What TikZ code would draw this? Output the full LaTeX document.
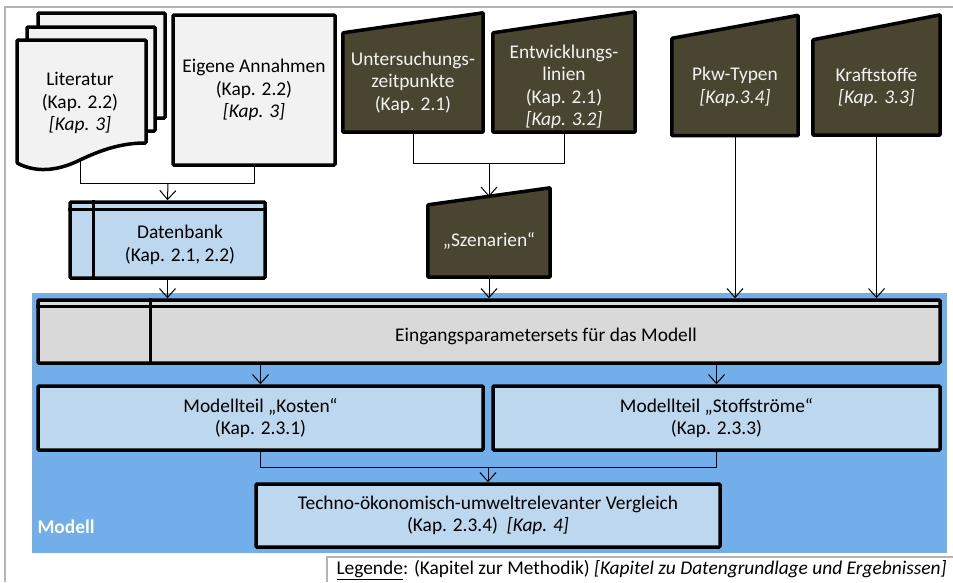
\documentclass[tikz,border=0pt]{standalone}
\usepackage{fontspec}
\setmainfont{Carlito}
\usetikzlibrary{arrows.meta,backgrounds}

\definecolor{docgray}{HTML}{F2F2F2}
\definecolor{dbblue}{HTML}{BDD7EE}
\definecolor{inbrown}{HTML}{4A4531}
\definecolor{modelblue}{HTML}{71AEEA}
\definecolor{setgray}{HTML}{D9D9D9}
\definecolor{framegray}{HTML}{B4B4B4}

\tikzset{
  box/.style={draw, line width=3.5pt, rounded corners=1pt, inner sep=0pt},
  inbox/.style={inner sep=0pt, text=docgray},
  inshape/.style={draw, line width=3.5pt, rounded corners=1pt, fill=inbrown},
  conn/.style={line width=1pt},
  arr/.style={conn, -{Straight Barb[length=9pt,width=16pt]}}
}

\newcommand{\inputshape}[2]{%
  \draw[inshape] (#1.south west) -- (#1.north west) -- ([yshift=#2]#1.north east) -- (#1.south east) -- cycle;}

\begin{document}
\begin{tikzpicture}[x=1pt,y=-1pt,
    every node/.style={align=center, font=\fontsize{19.4}{22.5}\selectfont}]
  \useasboundingbox (0,0) rectangle (953,582);
  % frame and model area
  \draw[framegray, line width=1.5pt] (5,582) -- (5,7) -- (953,7);
  \fill[modelblue] (32,293) rectangle (947,553);
  \node[anchor=west, text=white, font=\fontsize{19.4}{22}\selectfont\bfseries] (modell) at (34,527) {Modell};

  % Literatur stack
  \draw[box, fill=docgray] (38,13) rectangle (165,118);
  \draw[box, fill=docgray] (27,27) rectangle (155,131);
  \draw[box, fill=docgray] (17,40) -- (146,40) -- (146,143)
    .. controls (125,143) and (105,148) .. (80,160)
    .. controls (55,172) and (35,172) .. (17,163) -- cycle;
  \node (lit) at (80,103) {Literatur\\(Kap. 2.2)\\\textit{[Kap. 3]}};
  \coordinate (litfoot) at (80,161);

  \node[box, fill=docgray, minimum width=162pt, minimum height=150pt] (eig) at (254,90)
    {Eigene Annahmen\\(Kap. 2.2)\\\textit{[Kap. 3]}};

  % Datenbank
  \node[box, fill=dbblue, minimum width=195pt, minimum height=76pt] (db) at (167.5,240) {};
  \draw[line width=3.5pt] ([yshift=-9pt]db.north west) -- ([yshift=-9pt]db.north east);
  \draw[line width=3.5pt] ([xshift=25pt]db.north west) -- ([xshift=25pt]db.south west);
  \node (dbtext) at (180,245) {Datenbank\\(Kap. 2.1, 2.2)};

  % inputs
  \node[inbox, minimum width=140pt, minimum height=99pt] (unt) at (413,82.5)
    {Untersuchungs-\\zeitpunkte\\(Kap. 2.1)};
  \node[inbox, minimum width=142pt, minimum height=99pt] (ent) at (564,87)
    {Entwicklungs-\\linien\\(Kap. 2.1)\\\textit{[Kap. 3.2]}};
  \node[inbox, minimum width=126pt, minimum height=97pt] (pkw) at (735,87)
    {Pkw-Typen\\\textit{[Kap.3.4]}};
  \node[inbox, minimum width=127pt, minimum height=95pt] (kraft) at (876.5,87.5)
    {Kraftstoffe\\\textit{[Kap. 3.3]}};
  \node[inbox, minimum width=122pt, minimum height=72pt] (szen) at (489,241)
    {„Szenarien“};
  \begin{pgfonlayer}{background}
    \inputshape{unt}{20pt}
    \draw[inshape] (ent.south west |- unt.south) -- (ent.west |- unt.north)
      -- ([yshift=21pt]ent.east |- unt.north) -- (ent.east |- unt.south) -- cycle;
    \inputshape{pkw}{23pt}
    \inputshape{kraft}{25pt}
    \inputshape{szen}{17pt}
  \end{pgfonlayer}

  % model boxes
  \node[box, fill=setgray, minimum width=902pt, minimum height=63pt] (eps) at (489,331.5) {};
  \draw[line width=3.5pt] ([yshift=-8pt]eps.north west) -- ([yshift=-8pt]eps.north east);
  \draw[line width=3.5pt] ([xshift=114pt]eps.north west) -- ([xshift=114pt]eps.south west);
  \node (epstext) at (546,336) {Eingangsparametersets für das Modell};

  \node[box, fill=dbblue, minimum width=445pt, minimum height=64pt] (kost) at (260.5,418)
    {Modellteil „Kosten“\\(Kap. 2.3.1)};
  \node[box, fill=dbblue, minimum width=447pt, minimum height=64pt] (stoff) at (716.5,418)
    {Modellteil „Stoffströme“\\(Kap. 2.3.3)};
  \node[box, fill=dbblue, minimum width=464pt, minimum height=63pt] (tech) at (488,515.5)
    {Techno-ökonomisch-umweltrelevanter Vergleich\\(Kap. 2.3.4)\ \ \textit{[Kap. 4]}};

  % connectors
  \coordinate (j1) at (168,183);
  \draw[conn] (litfoot) |- (j1);
  \draw[conn] (eig.south) |- (j1);
  \draw[arr] (j1) -- (db.north);
  \draw[arr] (db.south) -- (db.south |- eps.north);

  \coordinate (j2) at (489,163);
  \draw[conn] (unt.south) |- (j2);
  \draw[conn] (ent.south |- unt.south) |- (j2);
  \draw[arr] (j2) -- ([yshift=8pt]szen.north);
  \draw[arr] (szen.south) -- (szen.south |- eps.north);
  \draw[arr] (pkw.south) -- (pkw.south |- eps.north);
  \draw[arr] (kraft.south) -- (kraft.south |- eps.north);

  \draw[arr] (kost.north |- eps.south) -- (kost.north);
  \draw[arr] (stoff.north |- eps.south) -- (stoff.north);
  \coordinate (j3) at (488,467);
  \draw[conn] (kost.south) |- (j3);
  \draw[conn] (stoff.south) |- (j3);
  \draw[arr] (j3) -- (tech.north);

  % legend
  \draw[framegray, line width=1.5pt] (327,582) -- (327,557) -- (953,557);
  \node[anchor=west] (leg) at (333,570)
    {\underline{Legende}: (Kapitel zur Methodik) \textit{[Kapitel zu Datengrundlage und Ergebnissen]}};
\end{tikzpicture}
\end{document}
